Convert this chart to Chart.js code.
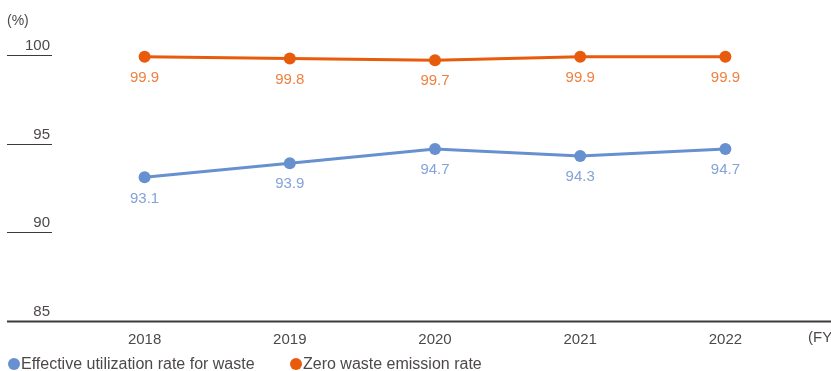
<!DOCTYPE html>
<html>
<head>
<meta charset="utf-8">
<script src="https://cdn.jsdelivr.net/npm/chart.js@4/dist/chart.umd.min.js"></script>
<style>
  html, body { margin: 0; padding: 0; background: #fff; }
  #wrap { width: 831px; height: 371px; position: relative; }
</style>
</head>
<body>
<div id="wrap"><canvas id="wasteChart"></canvas></div>
<script>
const years = ['2018', '2019', '2020', '2021', '2022'];
const utilizationRate = [93.1, 93.9, 94.7, 94.3, 94.7];
const zeroEmissionRate = [99.9, 99.8, 99.7, 99.9, 99.9];
const yTicks = [85, 90, 95, 100];

const FONT = '"Liberation Sans", Arial, Helvetica, sans-serif';
const TEXT = '#4d4948';

// short tick rules, numbers sitting on top of them, unit labels and legend
const decorations = {
  id: 'decorations',
  afterDraw(chart) {
    const ctx = chart.ctx;
    const y = chart.scales.y;
    ctx.save();
    ctx.font = '15px ' + FONT;
    ctx.fillStyle = TEXT;
    ctx.textAlign = 'right';
    ctx.textBaseline = 'alphabetic';
    yTicks.forEach(v => {
      const py = Math.round(y.getPixelForValue(v)) + 0.5;
      ctx.strokeStyle = '#3e3a39';
      ctx.lineWidth = v === 85 ? 2 : 1;
      ctx.beginPath();
      ctx.moveTo(7, py);
      ctx.lineTo(v === 85 ? chart.width : 52, py);
      ctx.stroke();
      ctx.fillText(String(v), 50, py - 6);
    });
    ctx.textAlign = 'left';
    ctx.font = '14px ' + FONT;
    ctx.fillText('(%)', 7, 25);
    ctx.textBaseline = 'middle';
    ctx.font = '15px ' + FONT;
    ctx.fillText('(FY)', 808, 338);

    // legend
    const items = [{x: 14}, {x: 296}];
    ctx.font = '16px ' + FONT;
    chart.data.datasets.forEach((ds, i) => {
      const cx = items[i].x;
      ctx.fillStyle = ds.borderColor;
      ctx.beginPath();
      ctx.arc(cx, 364, 6, 0, Math.PI * 2);
      ctx.fill();
      ctx.fillStyle = TEXT;
      ctx.fillText(ds.label, cx + 7, 365);
    });
    ctx.restore();
  },
  afterDatasetsDraw(chart) {
    const ctx = chart.ctx;
    ctx.save();
    ctx.font = '15px ' + FONT;
    ctx.textAlign = 'center';
    ctx.textBaseline = 'middle';
    chart.data.datasets.forEach((ds, i) => {
      const meta = chart.getDatasetMeta(i);
      ctx.fillStyle = ds.valueColor;
      meta.data.forEach((pt, j) => {
        ctx.fillText(ds.data[j].toFixed(1), pt.x, pt.y + 21);
      });
    });
    ctx.restore();
  }
};

new Chart(document.getElementById('wasteChart'), {
  type: 'line',
  data: {
    labels: years,
    datasets: [
      {
        label: 'Effective utilization rate for waste',
        data: utilizationRate,
        borderColor: '#6790d0',
        backgroundColor: '#6790d0',
        valueColor: '#84a3d8',
        borderWidth: 3,
        pointRadius: 6,
        pointHoverRadius: 6,
        pointBorderWidth: 0,
        tension: 0,
        clip: false
      },
      {
        label: 'Zero waste emission rate',
        data: zeroEmissionRate,
        borderColor: '#e95b0c',
        backgroundColor: '#e95b0c',
        valueColor: '#f08040',
        borderWidth: 3,
        pointRadius: 6,
        pointHoverRadius: 6,
        pointBorderWidth: 0,
        tension: 0,
        clip: false
      }
    ]
  },
  options: {
    responsive: true,
    maintainAspectRatio: false,
    animation: false,
    layout: { padding: { left: 72, right: 33, top: 55, bottom: 12 } },
    plugins: {
      legend: { display: false },
      tooltip: { enabled: false }
    },
    scales: {
      x: {
        offset: true,
        grid: { display: false, drawTicks: false },
        border: { display: false },
        ticks: { color: TEXT, font: { family: FONT, size: 15 }, padding: 10 }
      },
      y: {
        display: false,
        min: 85,
        max: 100,
        ticks: { stepSize: 5 }
      }
    }
  },
  plugins: [decorations]
});
</script>
</body>
</html>
